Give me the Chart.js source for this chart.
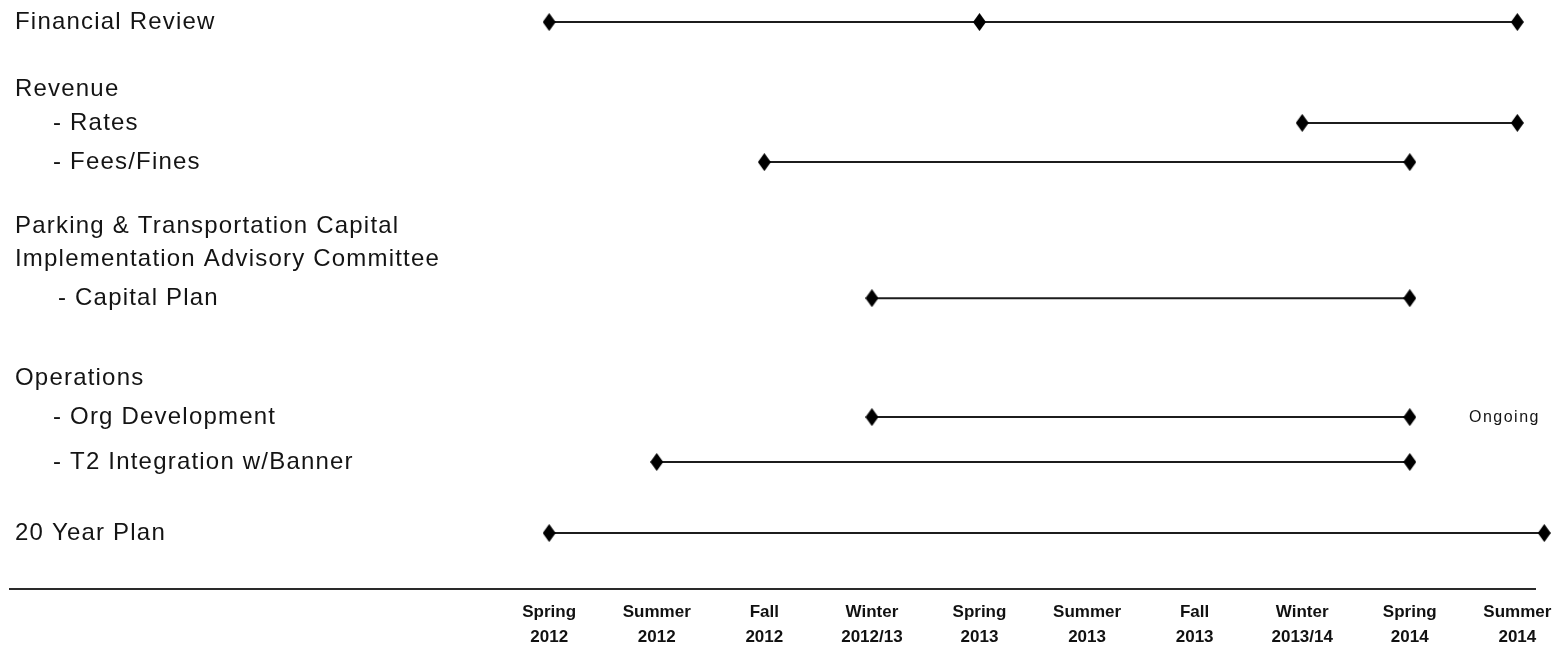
<!DOCTYPE html>
<html>
<head>
<meta charset="utf-8">
<title>Project Timeline</title>
<script src="https://cdn.jsdelivr.net/npm/chart.js@4.4.1/dist/chart.umd.min.js"></script>
<style>
  html, body { margin: 0; padding: 0; background: #ffffff; }
  #wrap { width: 1567px; height: 650px; }
</style>
</head>
<body>
<div id="wrap"><canvas id="timeline" width="1567" height="650"></canvas></div>
<script>
// Seasons on the horizontal axis (index 0 = Spring 2012)
const seasons = [
  ['Spring', '2012'], ['Summer', '2012'], ['Fall', '2012'], ['Winter', '2012/13'],
  ['Spring', '2013'], ['Summer', '2013'], ['Fall', '2013'], ['Winter', '2013/14'],
  ['Spring', '2014'], ['Summer', '2014']
];

// Row headings down the left side, top to bottom
const rowLabels = [
  'Financial Review',
  'Revenue',
  '- Rates',
  '- Fees/Fines',
  'Parking & Transportation Capital',
  'Implementation Advisory Committee',
  '- Capital Plan',
  'Operations',
  '- Org Development',
  '- T2 Integration w/Banner',
  '20 Year Plan'
];
// Vertical slot of each row (line units)
const rowSlots = [0, 2, 3.01, 4.18, 6.09, 7.07, 8.24, 10.63, 11.79, 13.13, 15.25];
// Indent of each heading in pixels
const rowIndent = [0, 0, 38, 38, 0, 0, 43, 0, 38, 38, 0];

// Tasks with their milestone positions (season index)
const taskNames = ['Financial Review', '- Rates', '- Fees/Fines', '- Capital Plan',
                   '- Org Development', '- T2 Integration w/Banner', '20 Year Plan'];
const financialReview = [0, 4, 9];
const rates = [7, 9];
const feesFines = [2, 8];
const capitalPlan = [3, 8];
const orgDevelopment = [3, 8];
const t2Integration = [1, 8];
const twentyYearPlan = [0, 9.25];
const taskMilestones = [financialReview, rates, feesFines, capitalPlan,
                        orgDevelopment, t2Integration, twentyYearPlan];

// Side notes
const noteText = ['Ongoing'];
const noteRow = ['- Org Development'];
const noteX = [8.88];

const FONT = '"Liberation Sans", Arial, sans-serif';

// Tall diamond marker
function makeDiamond(w, h) {
  const c = document.createElement('canvas');
  c.width = w; c.height = h;
  const g = c.getContext('2d');
  g.fillStyle = '#000000';
  g.beginPath();
  g.moveTo(w / 2, 0);
  g.lineTo(w, h / 2);
  g.lineTo(w / 2, h);
  g.lineTo(0, h / 2);
  g.closePath();
  g.fill();
  return c;
}
const diamond = makeDiamond(13, 18);

const datasets = taskNames.map((name, i) => {
  const slot = rowSlots[rowLabels.indexOf(name)];
  return {
    label: name,
    data: taskMilestones[i].map(v => ({ x: v, y: slot })),
    showLine: true,
    borderColor: '#1c1c1c',
    borderWidth: 2,
    pointStyle: diamond,
    pointRadius: 9,
    clip: false
  };
});

// Row headings and notes
const textPlugin = {
  id: 'rowText',
  afterDraw(chart) {
    const ctx = chart.ctx;
    const y = chart.scales.y;
    const x = chart.scales.x;
    ctx.save();
    ctx.fillStyle = '#141414';
    ctx.textBaseline = 'middle';
    ctx.textAlign = 'left';
    ctx.font = '24px ' + FONT;
    if ('letterSpacing' in ctx) ctx.letterSpacing = '1.2px';
    rowLabels.forEach((lbl, i) => {
      ctx.fillText(lbl, 15 + rowIndent[i], y.getPixelForValue(rowSlots[i]));
    });
    ctx.font = '16px ' + FONT;
    if ('letterSpacing' in ctx) ctx.letterSpacing = '1.5px';
    ctx.textAlign = 'center';
    noteText.forEach((t, i) => {
      const slot = rowSlots[rowLabels.indexOf(noteRow[i])];
      ctx.fillText(t, x.getPixelForValue(noteX[i]), y.getPixelForValue(slot));
    });
    if ('letterSpacing' in ctx) ctx.letterSpacing = '0px';
    ctx.restore();
  }
};

new Chart(document.getElementById('timeline'), {
  type: 'scatter',
  data: { datasets },
  plugins: [textPlugin],
  options: {
    responsive: false,
    animation: false,
    events: [],
    layout: { autoPadding: false, padding: { left: 10, right: 32, top: 0, bottom: 0 } },
    plugins: { legend: { display: false }, tooltip: { enabled: false } },
    scales: {
      x: {
        type: 'linear',
        min: -5.012,
        max: 9.164,
        grid: { display: false, drawTicks: false },
        border: { display: true, color: '#2a2a2a', width: 2 },
        afterBuildTicks(scale) {
          scale.ticks = seasons.map((_, i) => ({ value: i }));
        },
        afterFit(scale) { scale.height = 61; },
        ticks: {
          autoSkip: false,
          maxRotation: 0,
          padding: 11,
          color: '#111111',
          font: { family: FONT, size: 17, weight: 'bold', lineHeight: 1.47 },
          callback(value) { return seasons[value]; }
        }
      },
      y: {
        type: 'linear',
        display: false,
        reverse: true,
        min: -0.657,
        max: 16.92
      }
    }
  }
});
</script>
</body>
</html>
